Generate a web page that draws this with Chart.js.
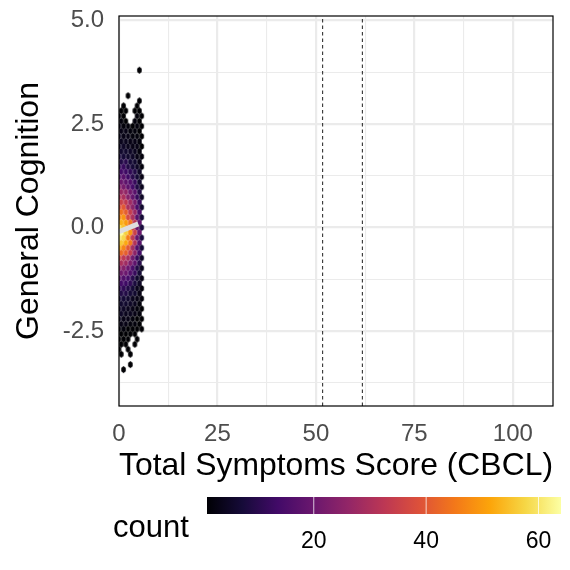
<!DOCTYPE html>
<html>
<head>
<meta charset="utf-8">
<title>General Cognition vs Total Symptoms Score (CBCL)</title>
<script src="https://cdn.jsdelivr.net/npm/chart.js@4.4.1/dist/chart.umd.min.js"></script>
<style>
  html, body { margin: 0; padding: 0; background: #fff; }
  #wrap { width: 570px; height: 570px; }
</style>
</head>
<body>
<div id="wrap"><canvas id="hexChart" width="570" height="570"></canvas></div>
<script>
// Hexbin of general cognition against CBCL total symptoms score

// Axis ticks (minor ones get a gridline but no label)
const xTicks = [0, 12.5, 25, 37.5, 50, 62.5, 75, 87.5, 100];
const xMajor = [0, 25, 50, 75, 100];
const yTicks = [-3.75, -2.5, -1.25, 0, 1.25, 2.5, 3.75, 5];
const yMajor = [-2.5, 0, 2.5, 5];

const xMin = 0, xMax = 110.2;
const yMin = -4.31, yMax = 5.11;

// Dashed cut-off lines
const cutoffs = [51.7, 61.8];

// Light fit line through the cloud
const fitX = [0, 4.9];
const fitY = [-0.1, 0.09];

// Hex grid: rows with 6 counts use the even columns, rows with 5 the odd ones
const colEven = [0, 1.15, 2.3, 3.45, 4.6, 5.75];
const colOdd = [0.575, 1.725, 2.875, 4.025, 5.175];
const binW = 1.15;
const binH = 0.1225;

const rowY = [
  3.80, 3.185, 3.06, 2.94, 2.82, 2.695, 2.57, 2.45, 2.33, 2.205, 2.08, 1.96,
  1.84, 1.715, 1.59, 1.47, 1.35, 1.225, 1.10, 0.98, 0.86, 0.735, 0.61, 0.49,
  0.37, 0.245, 0.12, 0, -0.12, -0.245, -0.37, -0.49, -0.61, -0.735, -0.86, -0.98,
  -1.10, -1.225, -1.35, -1.47, -1.59, -1.715, -1.84, -1.96, -2.08, -2.205, -2.33, -2.45,
  -2.57, -2.695, -2.82, -2.94, -3.06, -3.31, -3.43
];

const rowCounts = [
  [0, 0, 0, 0, 1],
  [0, 0, 1, 0, 0, 0],
  [0, 0, 0, 0, 1],
  [0, 1, 0, 0, 1, 0],
  [1, 1, 0, 1, 1],
  [2, 1, 0, 0, 2, 1],
  [2, 1, 0, 2, 1],
  [3, 2, 2, 1, 2, 1],
  [3, 3, 2, 2, 1],
  [4, 3, 3, 2, 2, 1],
  [4, 4, 3, 3, 2],
  [5, 5, 4, 3, 3, 1],
  [6, 6, 5, 4, 2],
  [8, 7, 6, 5, 3, 2],
  [9, 10, 7, 6, 3],
  [11, 12, 9, 7, 5, 2],
  [14, 13, 11, 9, 5],
  [16, 17, 13, 10, 7, 3],
  [20, 18, 16, 12, 6],
  [24, 22, 18, 14, 9, 4],
  [27, 26, 21, 17, 9],
  [31, 30, 24, 19, 12, 5],
  [35, 33, 28, 22, 12],
  [38, 40, 30, 25, 15, 6],
  [44, 41, 34, 27, 15],
  [47, 49, 37, 30, 17, 7],
  [53, 50, 44, 32, 18],
  [59, 55, 45, 36, 20, 8],
  [64, 57, 49, 35, 20],
  [60, 58, 46, 33, 19, 8],
  [56, 52, 45, 31, 17],
  [52, 47, 40, 29, 16, 7],
  [43, 41, 34, 25, 14],
  [36, 33, 29, 21, 12, 5],
  [30, 28, 23, 18, 10],
  [25, 24, 20, 15, 9, 4],
  [21, 20, 16, 12, 7],
  [17, 16, 14, 10, 6, 3],
  [14, 13, 11, 8, 5],
  [11, 11, 9, 7, 4, 2],
  [9, 9, 7, 6, 3],
  [7, 7, 6, 4, 3, 2],
  [6, 6, 5, 4, 2],
  [5, 5, 4, 3, 2, 1],
  [5, 4, 4, 3, 2],
  [4, 3, 3, 2, 1, 1],
  [3, 3, 2, 2, 1],
  [2, 2, 1, 1, 1, 1],
  [1, 1, 1, 1, 0],
  [1, 1, 1, 0, 1, 0],
  [1, 1, 0, 1, 0],
  [1, 0, 1, 0, 0, 0],
  [1, 0, 1, 0, 0],
  [0, 0, 1, 0, 0],
  [0, 1, 0, 0, 0, 0]
];

// Colour bar range and labels
const countMin = 1, countMax = 64;
const colorTicks = [20, 40, 60];

// Inferno palette stops
const inferno = ['#000004', '#160b39', '#420a68', '#6a176e', '#932667', '#bc3754',
  '#dd513a', '#f37819', '#fca50a', '#f6d746', '#fcffa4'];

const FONT = "'Liberation Sans', Arial, Helvetica, sans-serif";
Chart.defaults.font.family = FONT;

function hexToRgb(h) {
  const n = parseInt(h.slice(1), 16);
  return [(n >> 16) & 255, (n >> 8) & 255, n & 255];
}

function countColor(c) {
  let t = (c - countMin) / (countMax - countMin);
  t = Math.max(0, Math.min(1, t));
  const pos = t * (inferno.length - 1);
  const i = Math.min(Math.floor(pos), inferno.length - 2);
  const f = pos - i;
  const a = hexToRgb(inferno[i]), b = hexToRgb(inferno[i + 1]);
  const mix = a.map((v, k) => Math.round(v + (b[k] - v) * f));
  return `rgb(${mix[0]},${mix[1]},${mix[2]})`;
}

// Build scatter points from the hex rows
const hexPoints = [];
rowY.forEach((y, i) => {
  const counts = rowCounts[i];
  const cols = counts.length === 6 ? colEven : colOdd;
  counts.forEach((c, j) => {
    if (c > 0) hexPoints.push({ x: cols[j], y: y, c: c });
  });
});

// Hexagon images, sized from the scales
const hexCache = {};
function hexImage(ctx) {
  const chart = ctx.chart;
  const sx = chart.scales.x, sy = chart.scales.y;
  const w = Math.abs(sx.getPixelForValue(binW) - sx.getPixelForValue(0));
  const h = Math.abs(sy.getPixelForValue(binH) - sy.getPixelForValue(0)) / 0.75;
  const color = countColor(ctx.raw ? ctx.raw.c : 1);
  const key = color + w.toFixed(2) + h.toFixed(2);
  if (hexCache[key]) return hexCache[key];

  const cv = document.createElement('canvas');
  cv.width = Math.ceil(w) + 2;
  cv.height = Math.ceil(h) + 2;
  const g = cv.getContext('2d');
  const cx = cv.width / 2, cy = cv.height / 2;
  g.beginPath();
  g.moveTo(cx, cy - h / 2);
  g.lineTo(cx + w / 2, cy - h / 4);
  g.lineTo(cx + w / 2, cy + h / 4);
  g.lineTo(cx, cy + h / 2);
  g.lineTo(cx - w / 2, cy + h / 4);
  g.lineTo(cx - w / 2, cy - h / 4);
  g.closePath();
  g.fillStyle = color;
  g.fill();
  hexCache[key] = cv;
  return cv;
}

// Black frame around the panel
const panelBorder = {
  id: 'panelBorder',
  afterDraw(chart) {
    const { ctx, chartArea: a } = chart;
    ctx.save();
    ctx.strokeStyle = '#000';
    ctx.lineWidth = 1.2;
    ctx.strokeRect(a.left, a.top, a.right - a.left, a.bottom - a.top);
    ctx.restore();
  }
};

// Colour bar legend under the x axis title
const colorBar = {
  id: 'colorBar',
  afterDraw(chart) {
    const ctx = chart.ctx;
    const left = 207, right = 561, top = 497, bottom = 514;
    ctx.save();
    const grad = ctx.createLinearGradient(left, 0, right, 0);
    inferno.forEach((c, i) => grad.addColorStop(i / (inferno.length - 1), c));
    ctx.fillStyle = grad;
    ctx.fillRect(left, top, right - left, bottom - top);

    ctx.fillStyle = '#000';
    ctx.font = `23px ${FONT}`;
    ctx.textAlign = 'center';
    ctx.textBaseline = 'alphabetic';
    colorTicks.forEach(v => {
      const x = left + (v - countMin) / (countMax - countMin) * (right - left);
      ctx.strokeStyle = 'rgba(255,255,255,0.75)';
      ctx.lineWidth = 1;
      ctx.beginPath();
      ctx.moveTo(x, top);
      ctx.lineTo(x, bottom);
      ctx.stroke();
      ctx.fillText(String(v), x, 548);
    });

    ctx.font = `31px ${FONT}`;
    ctx.textAlign = 'left';
    ctx.fillText('count', 113, 537);
    ctx.restore();
  }
};

const datasets = [
  {
    type: 'line',
    data: fitX.map((x, i) => ({ x: x, y: fitY[i] })),
    borderColor: '#dedede',
    borderWidth: 5,
    pointRadius: 0,
    order: 0
  },
  {
    type: 'scatter',
    data: hexPoints,
    pointStyle: hexImage,
    pointRadius: 3,
    clip: 0,
    order: 2
  }
];

cutoffs.forEach(c => {
  datasets.push({
    type: 'line',
    data: [{ x: c, y: yMin }, { x: c, y: yMax }],
    borderColor: '#333333',
    borderWidth: 1.1,
    borderDash: [3.5, 3],
    pointRadius: 0,
    order: 1
  });
});

const gridWidth = (majors) => (ctx) => majors.includes(ctx.tick.value) ? 2.2 : 1.1;

new Chart(document.getElementById('hexChart'), {
  data: { datasets: datasets },
  options: {
    responsive: false,
    animation: false,
    events: [],
    layout: { padding: { top: 16, right: 17, bottom: 70, left: 0 } },
    plugins: {
      legend: { display: false },
      tooltip: { enabled: false }
    },
    scales: {
      x: {
        type: 'linear',
        min: xMin,
        max: xMax,
        afterBuildTicks: axis => { axis.ticks = xTicks.map(v => ({ value: v })); },
        afterFit: axis => {
          axis.height = 94;
          axis.paddingLeft = 0;
          axis.paddingRight = 0;
        },
        grid: { color: '#ebebeb', lineWidth: gridWidth(xMajor), drawTicks: false },
        border: { display: false },
        ticks: {
          autoSkip: false,
          maxRotation: 0,
          padding: 14,
          color: '#4d4d4d',
          font: { size: 24 },
          callback: v => xMajor.includes(v) ? String(v) : ''
        },
        title: {
          display: true,
          text: 'Total Symptoms Score (CBCL)',
          color: '#000',
          font: { size: 32 },
          padding: { top: 0, bottom: 15 }
        }
      },
      y: {
        type: 'linear',
        min: yMin,
        max: yMax,
        afterBuildTicks: axis => { axis.ticks = yTicks.map(v => ({ value: v })); },
        afterFit: axis => {
          axis.width = 119;
          axis.paddingTop = 0;
          axis.paddingBottom = 0;
        },
        grid: { color: '#ebebeb', lineWidth: gridWidth(yMajor), drawTicks: false },
        border: { display: false },
        ticks: {
          autoSkip: false,
          padding: 15,
          color: '#4d4d4d',
          font: { size: 24 },
          callback: v => yMajor.includes(v) ? v.toFixed(1) : ''
        },
        title: {
          display: true,
          text: 'General Cognition',
          color: '#000',
          font: { size: 32 },
          padding: { top: 10, bottom: 0 }
        }
      }
    }
  },
  plugins: [panelBorder, colorBar]
});
</script>
</body>
</html>
